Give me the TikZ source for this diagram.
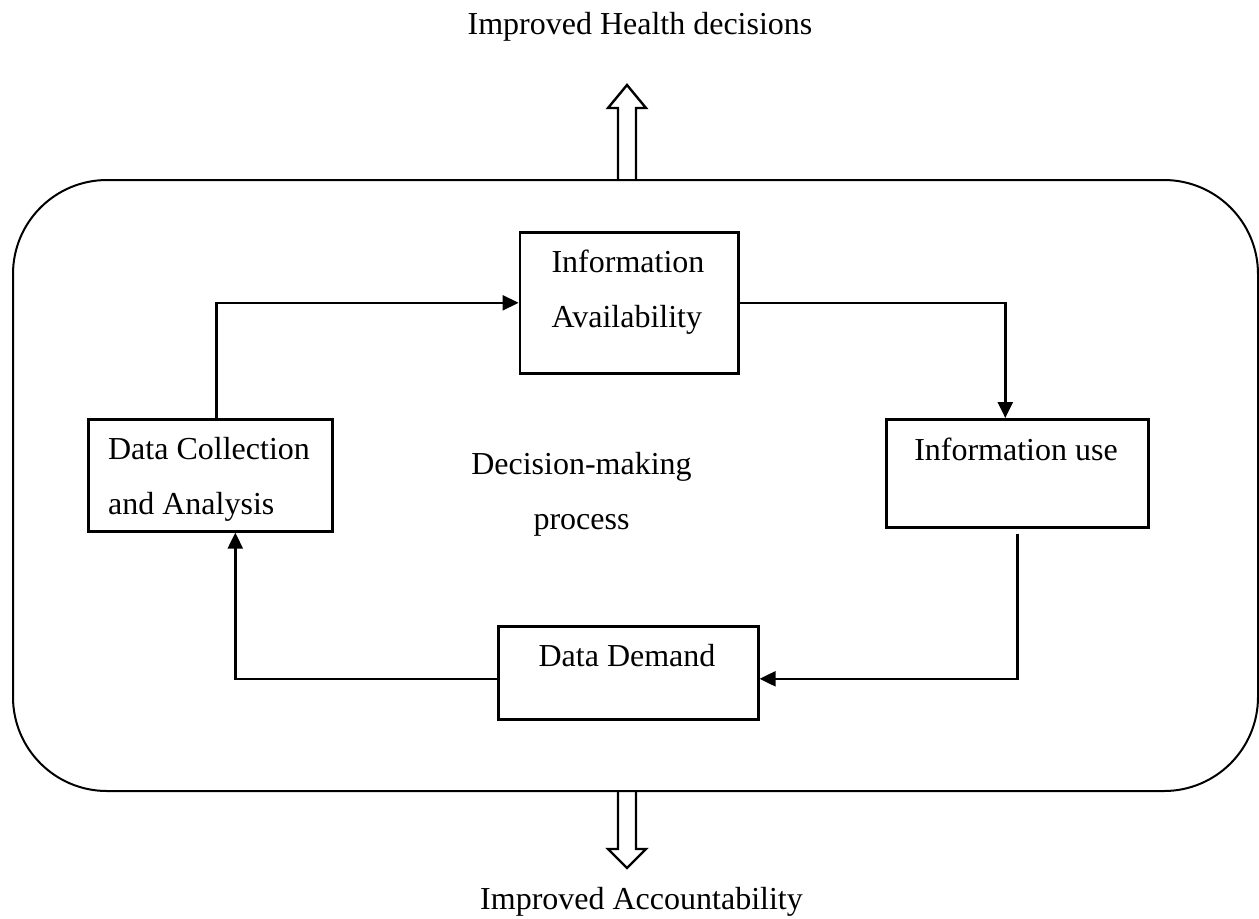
\documentclass[tikz,border=0pt]{standalone}
\usepackage{fontspec}
\setmainfont{Liberation Serif}
\usetikzlibrary{arrows.meta}
\begin{document}
\begin{tikzpicture}[x=0.5pt,y=-0.5pt,
  box/.style={draw, line width=1.3pt, rectangle, inner sep=0pt, anchor=north west},
  txt/.style={inner sep=0pt, anchor=north, font=\fontsize{16pt}{27.5pt}\selectfont},
  flow/.style={line width=1.2pt, -{Triangle[length=8pt,width=7.5pt]}},
  hollow/.style={draw, line width=1.2pt, line join=miter}]
\useasboundingbox (0,0) rectangle (1259,918);

% outer frame of the decision-making process
\node[draw, line width=1pt, rounded corners=47pt, inner sep=0pt, anchor=north west,
      minimum width=622.5pt, minimum height=305.5pt] (frame) at (12,179) {};

% outcome arrows
\draw[hollow] (618,179) -- (618,108) -- (608,108) -- (627,85) -- (646,108) -- (636,108) -- (636,179);
\draw[hollow] (618,790) -- (618,849) -- (608,849) -- (627,868) -- (646,849) -- (636,849) -- (636,790);

\node[txt] (top) at (640,12) {Improved Health decisions};
\node[txt] (bottom) at (641.5,887) {Improved Accountability};

% process stages
\node[box, minimum width=109.2pt, minimum height=70.5pt] (ia) at (518.6,231) {};
\node[box, minimum width=122pt, minimum height=56pt] (dc) at (87,418) {};
\node[box, minimum width=131pt, minimum height=54pt] (iu) at (885,418) {};
\node[box, minimum width=130pt, minimum height=46.5pt] (dd) at (497,625) {};

\node[txt, align=left] (iaText) at (628,250) {Information\\Availability};
\node[txt, align=left] (dcText) at (209,437) {Data Collection\\and Analysis};
\node[txt] (iuText) at (1016,438) {Information use};
\node[txt] (ddText) at (627,644) {Data Demand};
\node[txt, align=center] (centre) at (581.5,452) {Decision-making\\process};

% cycle connectors
\draw[flow] ([xshift=3pt]dc.north) |- (ia.west);
\draw[flow] (ia.east) -| ([xshift=-6pt]iu.north);
\draw[flow] ([yshift=-2.5pt]iu.south) |- ([yshift=-3pt]dd.east);
\draw[flow] ([yshift=-3pt]dd.west) -| ([xshift=12.5pt]dc.south);
\end{tikzpicture}
\end{document}
